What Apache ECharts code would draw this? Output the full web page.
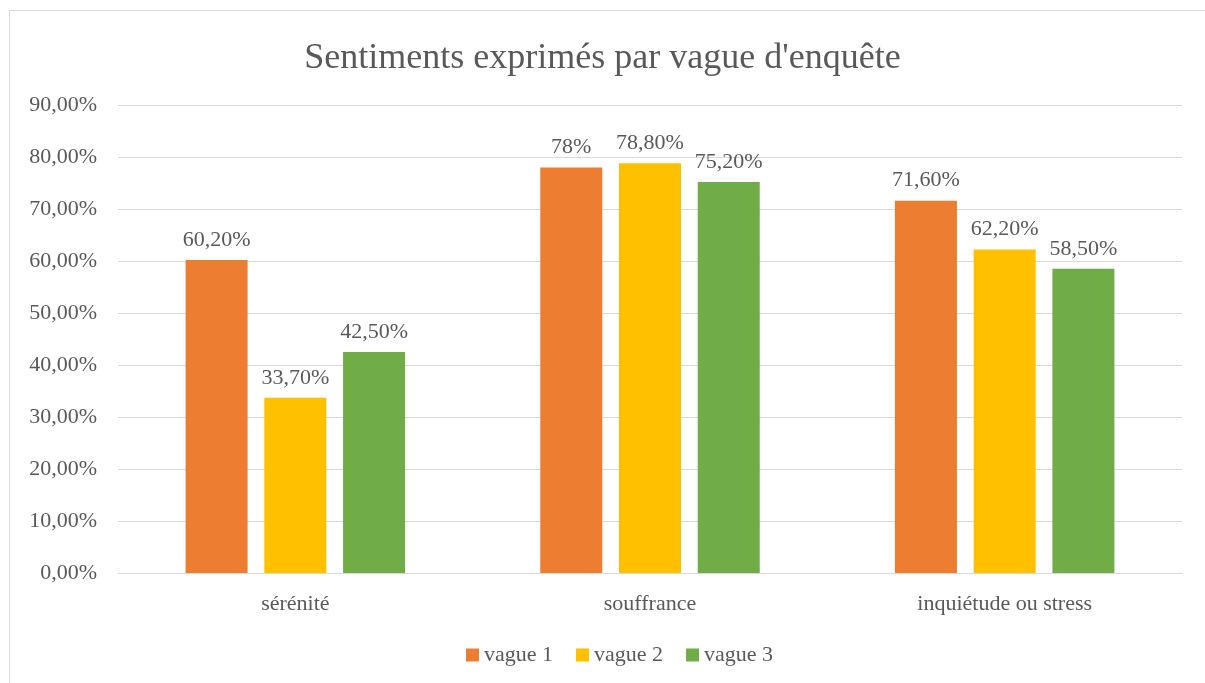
<!DOCTYPE html>
<html>
<head>
<meta charset="utf-8">
<script src="https://cdn.jsdelivr.net/npm/echarts@6/dist/echarts.min.js"></script>
<style>
  html, body { margin: 0; padding: 0; background: #fff; overflow: hidden; }
  #frame {
    position: absolute; left: 9px; top: 10px; width: 1210px; height: 690px;
    border: 1px solid #d9d9d9; box-sizing: border-box;
  }
  #chart { position: absolute; left: 0; top: 0; width: 1205px; height: 683px; }
</style>
</head>
<body>
<div id="frame"></div>
<div id="chart"></div>
<script>
// données
const categories = ['sérénité', 'souffrance', 'inquiétude ou stress']
const vague1 = [60.2, 78, 71.6]
const vague2 = [33.7, 78.8, 62.2]
const vague3 = [42.5, 75.2, 58.5]
const labels1 = ['60,20%', '78%', '71,60%']
const labels2 = ['33,70%', '78,80%', '62,20%']
const labels3 = ['42,50%', '75,20%', '58,50%']
const seriesNames = ['vague 1', 'vague 2', 'vague 3']
const colors = ['#ED7D31', '#FFC000', '#70AD47']

const font = "'Liberation Serif', 'DejaVu Serif', serif"
const textColor = '#595959'

const chart = echarts.init(document.getElementById('chart'))

function makeSeries(name, data, lbls, color) {
  return {
    name: name,
    type: 'bar',
    data: data,
    barWidth: 62,
    barGap: '27%',
    itemStyle: { color: color },
    label: {
      show: true,
      position: 'top',
      distance: 9,
      fontFamily: font,
      fontSize: 22,
      color: textColor,
      formatter: (p) => lbls[p.dataIndex]
    }
  }
}

const option = {
  animation: false,
  title: {
    text: "Sentiments exprimés par vague d'enquête",
    left: 'center',
    top: 36,
    textStyle: {
      fontFamily: font,
      fontSize: 36,
      fontWeight: 'normal',
      color: textColor
    }
  },
  legend: {
    bottom: 12,
    left: 461,
    itemWidth: 13,
    itemHeight: 13,
    itemGap: 23,
    icon: 'rect',
    textStyle: { fontFamily: font, fontSize: 22, color: textColor },
    data: seriesNames
  },
  grid: {
    left: 118,
    right: 23,
    top: 105,
    bottom: 110
  },
  xAxis: {
    type: 'category',
    data: categories,
    axisLine: { lineStyle: { color: '#d9d9d9', width: 1 } },
    axisTick: { show: false },
    axisLabel: {
      fontFamily: font,
      fontSize: 22,
      color: textColor,
      margin: 20
    }
  },
  yAxis: {
    type: 'value',
    min: 0,
    max: 90,
    interval: 10,
    axisLine: { show: false },
    axisTick: { show: false },
    axisLabel: {
      fontFamily: font,
      fontSize: 22,
      color: textColor,
      margin: 21,
      formatter: (v) => v.toFixed(2).replace('.', ',') + '%'
    },
    splitLine: { lineStyle: { color: '#d9d9d9', width: 1 } }
  },
  series: [
    makeSeries(seriesNames[0], vague1, labels1, colors[0]),
    makeSeries(seriesNames[1], vague2, labels2, colors[1]),
    makeSeries(seriesNames[2], vague3, labels3, colors[2])
  ]
}

chart.setOption(option)
</script>
</body>
</html>
